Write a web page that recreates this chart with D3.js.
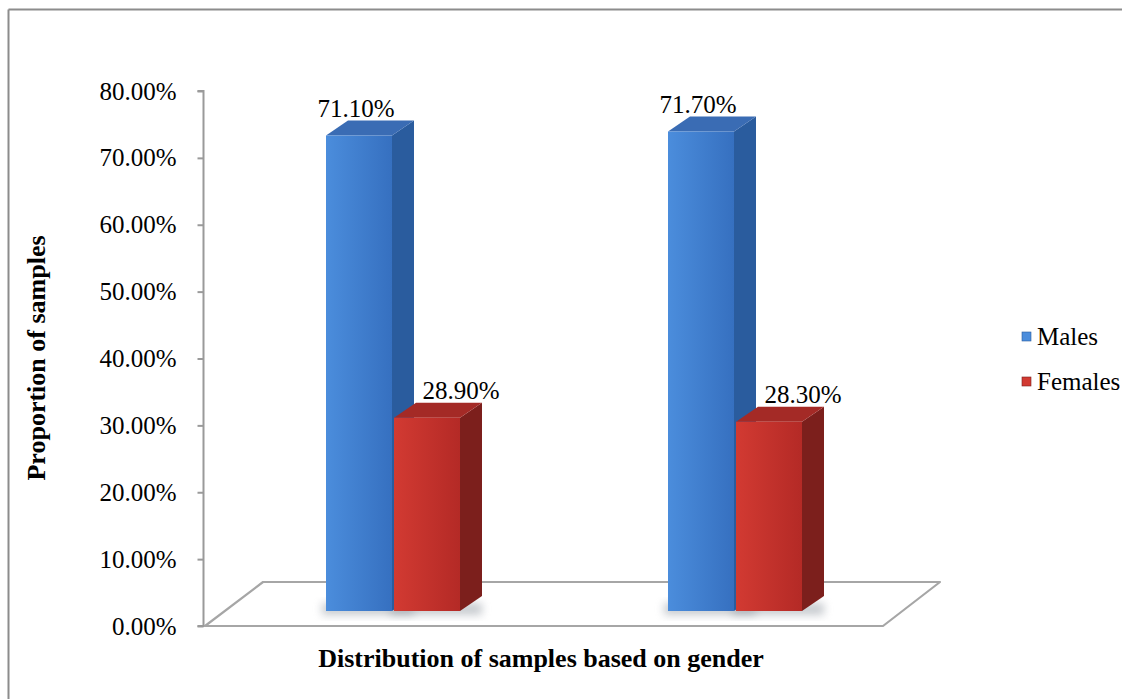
<!DOCTYPE html>
<html>
<head>
<meta charset="utf-8">
<script src="https://cdn.jsdelivr.net/npm/d3@7"></script>
<style>
  html, body { margin: 0; padding: 0; background: #fff; }
  svg { display: block; }
  svg text { font-family: "Liberation Serif", "Times New Roman", serif; }
</style>
</head>
<body>
<svg id="chart" width="1122" height="699"></svg>
<script>
// Share of samples by gender in two sample sets
const categories = ["Set 1", "Set 2"];
const seriesNames = ["Males", "Females"];
const males = [71.1, 71.7];
const females = [28.9, 28.3];
const yTicks = [0, 10, 20, 30, 40, 50, 60, 70, 80];
const yTitle = "Proportion of samples";
const xTitle = "Distribution of samples based on gender";

const seriesValues = [males, females];
const serif = "Liberation Serif, Times New Roman, serif";
const palette = {
  Males:   { light: "#4b8ddc", dark: "#3670c0", side: "#2a5c9e", top: "#3a6cb4" },
  Females: { light: "#d23a32", dark: "#b42a26", side: "#7c1f1c", top: "#a42a26" }
};

const svg = d3.select("#chart");
const defs = svg.append("defs");

// Outer frame (left and top edges)
svg.append("line").attr("x1", 8.5).attr("y1", 9.5).attr("x2", 1122).attr("y2", 9.5)
  .attr("stroke", "#8c8c8c").attr("stroke-width", 2);
svg.append("line").attr("x1", 8.5).attr("y1", 9.5).attr("x2", 8.5).attr("y2", 699)
  .attr("stroke", "#8c8c8c").attr("stroke-width", 2);

// Scales
const y = d3.scaleLinear().domain([0, 80]).range([626, 91]);
const x0 = d3.scaleBand().domain(categories).range([205, 889]);
const barW = 66;
// 3D depth of the floor and of each column
const floorDx = 58, floorDy = -44;
const barShiftX = 16, barShiftY = -15;
const depthX = 22, depthY = -15;

// Floor parallelogram
const floorX0 = x0.range()[0], floorX1 = 883;
svg.append("path")
  .attr("d", `M${floorX0},${y(0)} L${floorX0 + floorDx},${y(0) + floorDy} L${floorX1 + floorDx - 1},${y(0) + floorDy} L${floorX1},${y(0)} Z`)
  .attr("fill", "#ffffff").attr("stroke", "#a6a6a6").attr("stroke-width", 2.2)
  .attr("stroke-linejoin", "round");

// Y axis
const axis = d3.axisLeft(y).tickValues(yTicks).tickSize(6).tickPadding(21)
  .tickFormat(d => d3.format(".2f")(d) + "%");
const gAxis = svg.append("g").attr("transform", "translate(203.5,0)").call(axis)
  .attr("font-family", serif);
gAxis.select(".domain").attr("stroke", "#9a9a9a").attr("stroke-width", 2)
  .attr("d", `M-6,${y(80)}H0V${y(0)}H-6`);
gAxis.selectAll(".tick line").attr("stroke", "#9a9a9a").attr("stroke-width", 2);
gAxis.selectAll(".tick text").attr("fill", "#000").attr("font-size", 25)
  .attr("font-family", serif);

// Gradients for the column faces
seriesNames.forEach(name => {
  const c = palette[name];
  const g = defs.append("linearGradient").attr("id", "front-" + name)
    .attr("x1", 0).attr("x2", 1).attr("y1", 0).attr("y2", 0);
  g.append("stop").attr("offset", 0).attr("stop-color", c.light);
  g.append("stop").attr("offset", 1).attr("stop-color", c.dark);
});
const blur = defs.append("filter").attr("id", "shadow").attr("x", "-50%").attr("y", "-50%")
  .attr("width", "200%").attr("height", "200%");
blur.append("feGaussianBlur").attr("stdDeviation", 4);

// Columns
const bars = [];
categories.forEach((cat, i) => {
  seriesNames.forEach((name, s) => {
    const v = seriesValues[s][i];
    const left = x0(cat) + x0.bandwidth() / 2 + barShiftX + (s - 1) * barW + s * 2;
    bars.push({ cat, name, s, v, left });
  });
});

const gBars = svg.append("g");
// soft shadows on the floor
gBars.selectAll("rect.shadow").data(bars).join("rect").attr("class", "shadow")
  .attr("x", d => d.left - 4).attr("y", y(0) + barShiftY - 8)
  .attr("width", barW + depthX + 4).attr("height", 12)
  .attr("fill", "#9aa0a8").attr("opacity", 0.55).attr("filter", "url(#shadow)");

const barG = gBars.selectAll("g.bar").data(bars).join("g").attr("class", "bar");
const base = y(0) + barShiftY;
// side face
barG.append("path").attr("d", d => {
  const t = y(d.v) + barShiftY, r = d.left + barW;
  return `M${r},${t} L${r + depthX},${t + depthY} L${r + depthX},${base + depthY} L${r},${base} Z`;
}).attr("fill", d => palette[d.name].side);
// top face
barG.append("path").attr("d", d => {
  const t = y(d.v) + barShiftY, l = d.left, r = d.left + barW;
  return `M${l},${t} L${l + depthX},${t + depthY} L${r + depthX},${t + depthY} L${r},${t} Z`;
}).attr("fill", d => palette[d.name].top);
// front face
barG.append("rect")
  .attr("x", d => d.left).attr("y", d => y(d.v) + barShiftY)
  .attr("width", barW).attr("height", d => base - (y(d.v) + barShiftY))
  .attr("fill", d => `url(#front-${d.name})`);

// Value labels
const labelDx = { Males: -3, Females: 34 };
svg.append("g").selectAll("text").data(bars).join("text")
  .attr("x", d => d.left + barW / 2 + labelDx[d.name])
  .attr("y", d => y(d.v) + barShiftY - 19)
  .attr("text-anchor", "middle").attr("font-size", 25).attr("fill", "#000")
  .attr("font-family", serif)
  .text(d => d3.format(".2f")(d.v) + "%");

// Axis titles
svg.append("text").attr("transform", "translate(45,358) rotate(-90)")
  .attr("text-anchor", "middle").attr("font-size", 26).attr("font-weight", "bold")
  .attr("font-family", serif).text(yTitle);
svg.append("text").attr("x", 541).attr("y", 667)
  .attr("text-anchor", "middle").attr("font-size", 26).attr("font-weight", "bold")
  .attr("font-family", serif).text(xTitle);

// Legend
const legend = svg.append("g").attr("transform", "translate(1022,0)");
seriesNames.forEach((name, i) => {
  const yy = 337 + i * 45;
  const c = palette[name];
  legend.append("rect").attr("x", 0).attr("y", yy - 5).attr("width", 9).attr("height", 9)
    .attr("fill", c.light).attr("stroke", c.side).attr("stroke-width", 0.6);
  legend.append("text").attr("x", 15).attr("y", yy + 8).attr("font-size", 25)
    .attr("font-family", serif).attr("fill", "#000").text(name);
});
</script>
</body>
</html>
